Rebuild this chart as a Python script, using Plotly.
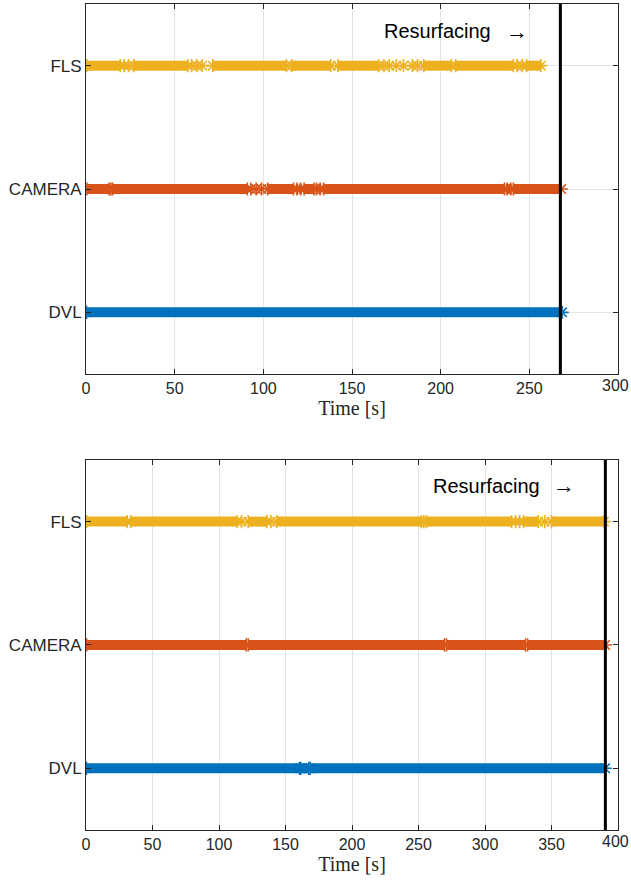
import plotly.graph_objects as go

# ---------------- data (seconds) ----------------
categories = ["DVL", "CAMERA", "FLS"]
cat_y = {"DVL": 1, "CAMERA": 2, "FLS": 3}

# top run: data segments [start, end] and isolated samples
top_fls_segments = [(0.5, 19.3), (27, 57.5), (71.5, 113), (116, 138), (142, 165),
                    (190.5, 206), (208.5, 241), (248.5, 256.5)]
top_fls_points = [21.5, 24, 59.5, 62.5, 65.5, 168, 171, 175, 179, 184, 187, 243, 246]
top_cam_segments = [(0.5, 13), (15, 91), (102.5, 117), (123, 128.6), (134, 236), (241, 268)]
top_cam_points = [14, 93, 96, 99, 119, 121, 130, 132, 237.5, 239.5]
top_dvl_segments = [(0.3, 268.5)]
top_dvl_points = []
top_resurface = 267.5

# bottom run
bot_fls_segments = [(0.5, 31), (33.6, 113.6), (122, 136), (143.5, 252), (256, 320),
                    (329, 340), (350, 389.5)]
bot_fls_points = [117, 139, 254, 323, 326, 345]
bot_cam_segments = [(0.5, 120.5), (122, 269.5), (271, 330.5), (332, 390.3)]
bot_cam_points = []
bot_dvl_segments = [(0.3, 160.5), (161.5, 167.5), (168.5, 390.3)]
bot_dvl_points = []
bot_resurface = 390.5

top_xticks = [0, 50, 100, 150, 200, 250, 300]
bot_xticks = [0, 50, 100, 150, 200, 250, 300, 350, 400]

colors = {"DVL": "#0072BD", "CAMERA": "#D95319", "FLS": "#EDB120"}

fig = go.Figure()


def add_sensor(name, segs, pts, xa, ya):
    c = colors[name]
    xs, ys = [], []
    for s, e in segs:
        xs += [s, e, None]
        ys += [cat_y[name], cat_y[name], None]
    mk = dict(symbol="asterisk-open", size=11, color=c, line=dict(color=c, width=1.6))
    fig.add_trace(go.Scatter(x=xs, y=ys, mode="lines+markers", xaxis=xa, yaxis=ya,
                             line=dict(color=c, width=10), marker=mk,
                             showlegend=False, hoverinfo="skip"))
    if pts:
        fig.add_trace(go.Scatter(x=pts, y=[cat_y[name]] * len(pts), mode="markers",
                                 xaxis=xa, yaxis=ya, marker=mk,
                                 showlegend=False, hoverinfo="skip"))


add_sensor("DVL", top_dvl_segments, top_dvl_points, "x", "y")
add_sensor("CAMERA", top_cam_segments, top_cam_points, "x", "y")
add_sensor("FLS", top_fls_segments, top_fls_points, "x", "y")
add_sensor("DVL", bot_dvl_segments, bot_dvl_points, "x2", "y2")
add_sensor("CAMERA", bot_cam_segments, bot_cam_points, "x2", "y2")
add_sensor("FLS", bot_fls_segments, bot_fls_points, "x2", "y2")

# resurfacing lines
fig.add_trace(go.Scatter(x=[top_resurface, top_resurface], y=[0.5, 3.5], mode="lines",
                         xaxis="x", yaxis="y", line=dict(color="black", width=3),
                         showlegend=False, hoverinfo="skip"))
fig.add_trace(go.Scatter(x=[bot_resurface, bot_resurface], y=[0.5, 3.5], mode="lines",
                         xaxis="x2", yaxis="y2", line=dict(color="black", width=3),
                         showlegend=False, hoverinfo="skip"))

axis_common = dict(showline=True, linecolor="#262626", linewidth=1, mirror="ticks",
                   ticks="inside", ticklen=5, tickcolor="#262626",
                   showgrid=True, gridcolor="#E3E3E3", gridwidth=1, zeroline=False)
xtick_font = dict(family="Liberation Sans, Arial", size=16, color="#262626")
ytick_font = dict(family="Liberation Sans, Arial", size=17, color="#262626")

title_font = dict(family="Liberation Serif, DejaVu Serif", size=20, color="#262626")
ann_font = dict(family="Liberation Sans, Arial", size=20, color="black")
arrow_font = dict(family="Liberation Serif, DejaVu Serif", size=22, color="black")

# last tick labels at the right edge, kept inside the page
edge_labels = [
    dict(x=1, y=0.552, xref="paper", yref="paper", xanchor="right", yanchor="top",
         xshift=13, yshift=-1, showarrow=False, text=str(top_xticks[-1]), font=xtick_font),
    dict(x=1, y=0.0, xref="paper", yref="paper", xanchor="right", yanchor="top",
         xshift=13, yshift=-1, showarrow=False, text=str(bot_xticks[-1]), font=xtick_font),
]

fig.update_layout(
    width=631, height=882,
    margin=dict(l=86, r=13, t=4, b=52),
    paper_bgcolor="white", plot_bgcolor="white",
    xaxis=dict(domain=[0, 1], anchor="y", range=[0, 300], tickvals=top_xticks,
               tickfont=xtick_font,
               title=dict(text="Time [s]", font=title_font, standoff=0), **axis_common),
    yaxis=dict(domain=[0.552, 1], anchor="x", range=[0.5, 3.5], tickfont=ytick_font,
               tickvals=[1, 2, 3], ticktext=categories, **axis_common),
    xaxis2=dict(domain=[0, 1], anchor="y2", range=[0, 400], tickvals=bot_xticks,
                tickfont=xtick_font,
                title=dict(text="Time [s]", font=title_font, standoff=0), **axis_common),
    yaxis2=dict(domain=[0, 0.448], anchor="x2", range=[0.5, 3.5], tickfont=ytick_font,
                tickvals=[1, 2, 3], ticktext=categories, **axis_common),
    annotations=[
        dict(x=167, y=3.28, xref="x", yref="y", xanchor="left", showarrow=False,
             text="Resurfacing", font=ann_font),
        dict(x=243.3, y=3.28, xref="x", yref="y", xanchor="center", showarrow=False,
             text="\u2192", font=arrow_font),
        dict(x=259.5, y=3.29, xref="x2", yref="y2", xanchor="left", showarrow=False,
             text="Resurfacing", font=ann_font),
        dict(x=359.5, y=3.29, xref="x2", yref="y2", xanchor="center", showarrow=False,
             text="\u2192", font=arrow_font),
    ] + edge_labels,
)

fig.write_html(
    "out.html", config={"displayModeBar": False},
    post_script=("document.body.style.margin='0';"
                 "document.body.style.overflow='hidden';"
                 "document.documentElement.style.overflow='hidden';"))
